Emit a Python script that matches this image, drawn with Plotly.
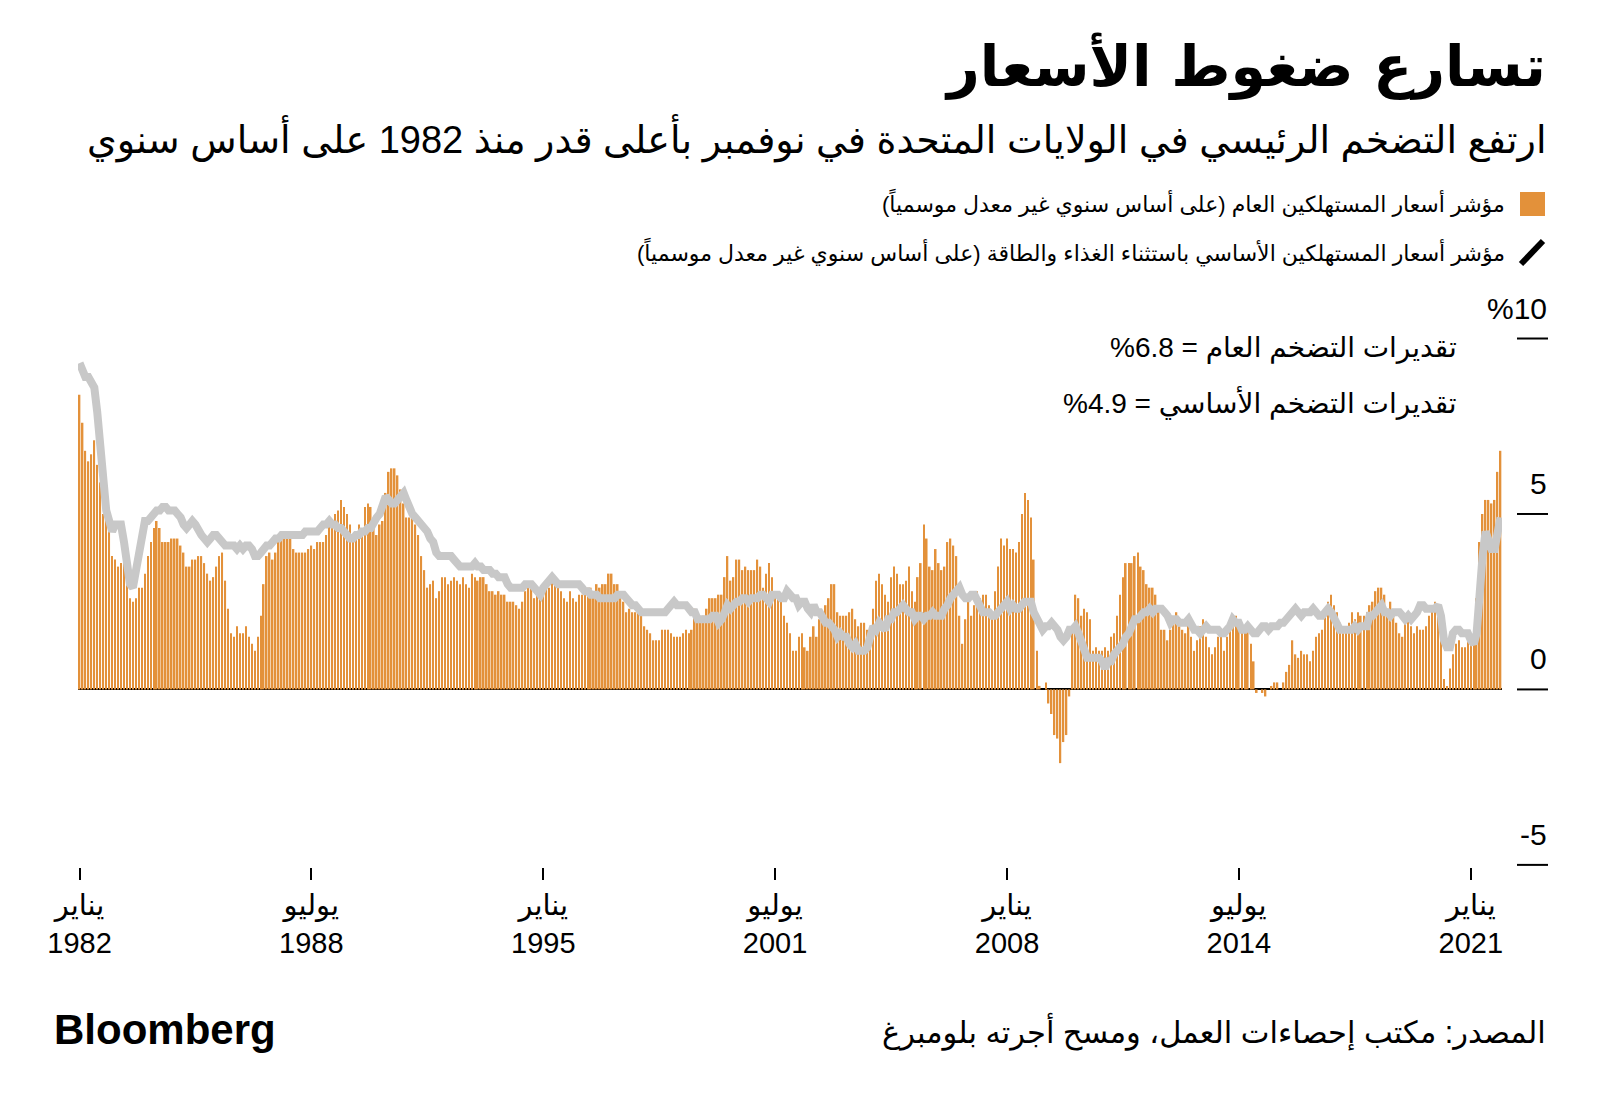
import plotly.graph_objects as go
import pandas as pd

# ---------------- data (year-over-year %, not seasonally adjusted) ----------------
cpi_yoy = [
    8.4, 7.6, 6.8, 6.5, 6.7, 7.1, 6.4, 5.9, 5.0, 5.1, 4.6, 3.8,      # 1982
    3.7, 3.5, 3.6, 3.9, 3.5, 2.6, 2.5, 2.6, 2.9, 2.9, 3.3, 3.8,      # 1983
    4.2, 4.6, 4.8, 4.6, 4.2, 4.2, 4.2, 4.3, 4.3, 4.3, 4.1, 3.9,      # 1984
    3.5, 3.5, 3.7, 3.7, 3.8, 3.8, 3.6, 3.3, 3.1, 3.2, 3.5, 3.8,      # 1985
    3.9, 3.1, 2.3, 1.6, 1.5, 1.8, 1.6, 1.6, 1.8, 1.5, 1.3, 1.1,      # 1986
    1.5, 2.1, 3.0, 3.8, 3.9, 3.7, 3.9, 4.3, 4.4, 4.5, 4.5, 4.4,      # 1987
    4.0, 3.9, 3.9, 3.9, 3.9, 4.0, 4.1, 4.0, 4.2, 4.2, 4.2, 4.4,      # 1988
    4.7, 4.8, 5.0, 5.1, 5.4, 5.2, 5.0, 4.7, 4.3, 4.5, 4.7, 4.6,      # 1989
    5.2, 5.3, 5.2, 4.7, 4.4, 4.7, 4.8, 5.6, 6.2, 6.3, 6.3, 6.1,      # 1990
    5.7, 5.3, 4.9, 4.9, 5.0, 4.7, 4.4, 3.8, 3.4, 2.9, 3.0, 3.1,      # 1991
    2.6, 2.8, 3.2, 3.2, 3.0, 3.1, 3.2, 3.1, 3.0, 3.2, 3.0, 2.9,      # 1992
    3.3, 3.2, 3.1, 3.2, 3.2, 3.0, 2.8, 2.8, 2.7, 2.8, 2.7, 2.7,      # 1993
    2.5, 2.5, 2.5, 2.4, 2.3, 2.5, 2.8, 2.9, 3.0, 2.6, 2.7, 2.7,      # 1994
    2.8, 2.9, 2.9, 3.1, 3.2, 3.0, 2.8, 2.6, 2.5, 2.8, 2.6, 2.5,      # 1995
    2.7, 2.7, 2.8, 2.9, 2.9, 2.8, 3.0, 2.9, 3.0, 3.0, 3.3, 3.3,      # 1996
    3.0, 3.0, 2.8, 2.5, 2.2, 2.3, 2.2, 2.2, 2.2, 2.1, 1.8, 1.7,      # 1997
    1.6, 1.4, 1.4, 1.4, 1.7, 1.7, 1.7, 1.6, 1.5, 1.5, 1.5, 1.6,      # 1998
    1.7, 1.6, 1.7, 2.3, 2.1, 2.0, 2.1, 2.3, 2.6, 2.6, 2.6, 2.7,      # 1999
    2.7, 3.2, 3.8, 3.1, 3.2, 3.7, 3.7, 3.4, 3.5, 3.4, 3.4, 3.4,      # 2000
    3.7, 3.5, 2.9, 3.3, 3.6, 3.2, 2.7, 2.7, 2.6, 2.1, 1.9, 1.6,      # 2001
    1.1, 1.1, 1.5, 1.6, 1.2, 1.1, 1.5, 1.8, 1.5, 2.0, 2.2, 2.4,      # 2002
    2.6, 3.0, 3.0, 2.2, 2.1, 2.1, 2.1, 2.2, 2.3, 2.0, 1.8, 1.9,      # 2003
    1.9, 1.7, 1.7, 2.3, 3.1, 3.3, 3.0, 2.7, 2.5, 3.2, 3.5, 3.3,      # 2004
    3.0, 3.0, 3.1, 3.5, 2.8, 2.5, 3.2, 3.6, 4.7, 4.3, 3.5, 3.4,      # 2005
    4.0, 3.6, 3.4, 3.5, 4.2, 4.3, 4.1, 3.8, 2.1, 1.3, 2.0, 2.5,      # 2006
    2.1, 2.4, 2.8, 2.6, 2.7, 2.7, 2.4, 2.0, 2.8, 3.5, 4.3, 4.1,      # 2007
    4.3, 4.0, 4.0, 3.9, 4.2, 5.0, 5.6, 5.4, 4.9, 3.7, 1.1, 0.1,      # 2008
    0.0, 0.2, -0.4, -0.7, -1.3, -1.4, -2.1, -1.5, -1.3, -0.2, 1.8, 2.7,  # 2009
    2.6, 2.1, 2.3, 2.2, 2.0, 1.1, 1.2, 1.1, 1.1, 1.2, 1.1, 1.5,      # 2010
    1.6, 2.1, 2.7, 3.2, 3.6, 3.6, 3.6, 3.8, 3.9, 3.5, 3.4, 3.0,      # 2011
    2.9, 2.9, 2.7, 2.3, 1.7, 1.7, 1.4, 1.7, 2.0, 2.2, 1.8, 1.7,      # 2012
    1.6, 2.0, 1.5, 1.1, 1.4, 1.8, 2.0, 1.5, 1.2, 1.0, 1.2, 1.5,      # 2013
    1.6, 1.1, 1.5, 2.0, 2.1, 2.1, 2.0, 1.7, 1.7, 1.7, 1.3, 0.8,      # 2014
    -0.1, 0.0, -0.1, -0.2, 0.0, 0.1, 0.2, 0.2, 0.0, 0.2, 0.5, 0.7,   # 2015
    1.4, 1.0, 0.9, 1.1, 1.0, 1.0, 0.8, 1.1, 1.5, 1.6, 1.7, 2.1,      # 2016
    2.5, 2.7, 2.4, 2.2, 1.9, 1.6, 1.7, 1.9, 2.2, 2.0, 2.2, 2.1,      # 2017
    2.1, 2.2, 2.4, 2.5, 2.8, 2.9, 2.9, 2.7, 2.3, 2.5, 2.2, 1.9,      # 2018
    1.6, 1.5, 1.9, 2.0, 1.8, 1.6, 1.8, 1.7, 1.7, 1.8, 2.1, 2.3,      # 2019
    2.5, 2.3, 1.5, 0.3, 0.1, 0.6, 1.0, 1.3, 1.4, 1.2, 1.2, 1.4,      # 2020
    1.4, 1.7, 2.6, 4.2, 5.0, 5.4, 5.4, 5.3, 5.4, 6.2, 6.8,           # 2021 (Jan-Nov)
]

core_yoy = [
    9.3, 9.1, 8.9, 8.9, 8.7, 8.6, 7.9, 6.9, 5.9, 5.1, 4.8, 4.5,      # 1982
    4.7, 4.7, 4.7, 4.2, 3.6, 3.0, 2.9, 3.4, 4.1, 4.6, 4.8, 4.8,      # 1983
    4.9, 5.0, 5.1, 5.1, 5.2, 5.2, 5.1, 5.1, 5.1, 5.0, 4.9, 4.7,      # 1984
    4.6, 4.7, 4.8, 4.7, 4.5, 4.4, 4.3, 4.2, 4.3, 4.4, 4.4, 4.3,      # 1985
    4.2, 4.1, 4.1, 4.1, 4.1, 4.0, 4.1, 4.0, 4.1, 4.1, 4.0, 3.8,      # 1986
    3.8, 3.9, 4.0, 4.1, 4.1, 4.2, 4.3, 4.3, 4.4, 4.4, 4.4, 4.4,      # 1987
    4.4, 4.4, 4.4, 4.4, 4.5, 4.5, 4.5, 4.5, 4.5, 4.6, 4.7, 4.7,      # 1988
    4.8, 4.7, 4.7, 4.6, 4.6, 4.5, 4.4, 4.3, 4.3, 4.4, 4.4, 4.5,      # 1989
    4.5, 4.6, 4.6, 4.8, 4.9, 5.0, 5.3, 5.5, 5.4, 5.3, 5.3, 5.4,      # 1990
    5.5, 5.6, 5.4, 5.1, 5.0, 4.9, 4.8, 4.7, 4.6, 4.5, 4.3, 4.2,      # 1991
    3.9, 3.8, 3.8, 3.8, 3.8, 3.8, 3.7, 3.6, 3.5, 3.5, 3.5, 3.5,      # 1992
    3.5, 3.6, 3.5, 3.5, 3.4, 3.4, 3.4, 3.3, 3.3, 3.2, 3.2, 3.2,      # 1993
    3.0, 2.9, 2.9, 2.9, 2.9, 2.9, 3.0, 3.0, 3.0, 2.9, 2.8, 2.7,      # 1994
    2.9, 3.0, 3.1, 3.2, 3.1, 3.0, 3.0, 3.0, 3.0, 3.0, 3.0, 3.0,      # 1995
    3.0, 2.9, 2.8, 2.8, 2.7, 2.7, 2.7, 2.6, 2.6, 2.6, 2.6, 2.6,      # 1996
    2.6, 2.7, 2.7, 2.7, 2.6, 2.5, 2.4, 2.4, 2.3, 2.2, 2.2, 2.2,      # 1997
    2.2, 2.2, 2.2, 2.2, 2.2, 2.2, 2.3, 2.4, 2.5, 2.4, 2.4, 2.4,      # 1998
    2.4, 2.3, 2.2, 2.2, 2.0, 2.0, 2.0, 2.0, 2.0, 2.1, 2.1, 1.9,      # 1999
    2.0, 2.2, 2.4, 2.3, 2.4, 2.5, 2.5, 2.6, 2.6, 2.5, 2.6, 2.6,      # 2000
    2.6, 2.7, 2.7, 2.6, 2.5, 2.7, 2.7, 2.7, 2.6, 2.6, 2.8, 2.7,      # 2001
    2.6, 2.6, 2.4, 2.5, 2.5, 2.3, 2.2, 2.4, 2.2, 2.2, 2.0, 1.9,      # 2002
    1.9, 1.8, 1.7, 1.5, 1.6, 1.5, 1.5, 1.3, 1.2, 1.3, 1.1, 1.1,      # 2003
    1.1, 1.2, 1.6, 1.8, 1.7, 1.9, 1.8, 1.7, 2.0, 2.0, 2.2, 2.2,      # 2004
    2.3, 2.4, 2.3, 2.2, 2.2, 2.0, 2.1, 2.1, 2.0, 2.1, 2.1, 2.2,      # 2005
    2.1, 2.1, 2.1, 2.3, 2.4, 2.6, 2.7, 2.8, 2.9, 2.7, 2.6, 2.6,      # 2006
    2.7, 2.7, 2.5, 2.3, 2.2, 2.2, 2.2, 2.1, 2.1, 2.2, 2.3, 2.4,      # 2007
    2.5, 2.3, 2.4, 2.3, 2.3, 2.4, 2.5, 2.5, 2.5, 2.2, 2.0, 1.8,      # 2008
    1.7, 1.8, 1.8, 1.9, 1.8, 1.7, 1.5, 1.4, 1.5, 1.7, 1.7, 1.8,      # 2009
    1.6, 1.3, 1.1, 0.9, 0.9, 0.9, 0.9, 0.9, 0.8, 0.6, 0.8, 0.8,      # 2010
    1.0, 1.1, 1.2, 1.3, 1.5, 1.6, 1.8, 2.0, 2.0, 2.1, 2.2, 2.2,      # 2011
    2.3, 2.2, 2.3, 2.3, 2.3, 2.2, 2.1, 1.9, 2.0, 2.0, 1.9, 1.9,      # 2012
    1.9, 2.0, 1.9, 1.7, 1.7, 1.6, 1.7, 1.8, 1.7, 1.7, 1.7, 1.7,      # 2013
    1.6, 1.6, 1.7, 1.8, 2.0, 1.9, 1.9, 1.7, 1.7, 1.8, 1.7, 1.6,      # 2014
    1.6, 1.7, 1.8, 1.8, 1.7, 1.8, 1.8, 1.8, 1.9, 1.9, 2.0, 2.1,      # 2015
    2.2, 2.3, 2.2, 2.1, 2.2, 2.2, 2.2, 2.3, 2.2, 2.1, 2.1, 2.2,      # 2016
    2.3, 2.2, 2.0, 1.9, 1.7, 1.7, 1.7, 1.7, 1.7, 1.8, 1.7, 1.8,      # 2017
    1.8, 1.8, 2.1, 2.1, 2.2, 2.3, 2.4, 2.2, 2.2, 2.1, 2.2, 2.2,      # 2018
    2.2, 2.1, 2.0, 2.1, 2.0, 2.1, 2.2, 2.4, 2.4, 2.3, 2.3, 2.3,      # 2019
    2.3, 2.4, 2.1, 1.4, 1.2, 1.2, 1.6, 1.7, 1.7, 1.6, 1.6, 1.6,      # 2020
    1.4, 1.3, 1.6, 3.0, 3.8, 4.5, 4.3, 4.0, 4.0, 4.6, 4.9,           # 2021 (Jan-Nov)
]

start_month = "1982-01-01"
months = pd.date_range(start_month, periods=len(cpi_yoy), freq="MS")

x_tick_dates = ["1982-01-01", "1988-07-01", "1995-01-01", "2001-07-01",
                "2008-01-01", "2014-07-01", "2021-01-01"]
x_tick_labels = ["يناير<br>1982", "يوليو<br>1988", "يناير<br>1995", "يوليو<br>2001",
                 "يناير<br>2008", "يوليو<br>2014", "يناير<br>2021"]
y_tick_values = [10, 5, 0, -5]
y_tick_labels = ["%10", "5", "0", "-5"]

RLE, LRE, PDF = "\u202b", "\u202a", "\u202c"
title_text = "تسارع ضغوط الأسعار"
subtitle_text = "ارتفع التضخم الرئيسي في الولايات المتحدة في نوفمبر بأعلى قدر منذ 1982 على أساس سنوي"
legend_cpi = "مؤشر أسعار المستهلكين العام (على أساس سنوي غير معدل موسمياً)\u200f"
legend_core = "مؤشر أسعار المستهلكين الأساسي باستثناء الغذاء والطاقة (على أساس سنوي غير معدل موسمياً)\u200f"
note_headline = RLE + "تقديرات التضخم العام = " + LRE + "%6.8" + PDF + PDF
note_core = RLE + "تقديرات التضخم الأساسي = " + LRE + "%4.9" + PDF + PDF
source_text = "المصدر: مكتب إحصاءات العمل، ومسح أجرته بلومبرغ"

# ---------------- styling ----------------
W, H = 1600, 1107
ML, MR, MT, MB = 78, 98, 335, 240
PW, PH = W - ML - MR, H - MT - MB
ORANGE = "#e3913a"
GREY = "#c8c8c8"
FONT = "Liberation Sans, DejaVu Sans, sans-serif"


def px(x):
    return (x - ML) / PW


def py(y):
    return (H - MB - y) / PH


fig = go.Figure()
fig.add_trace(go.Bar(x=months, y=cpi_yoy, marker=dict(color=ORANGE, line=dict(width=0)),
                     hoverinfo="skip", showlegend=False))
fig.add_trace(go.Scatter(x=months, y=core_yoy, mode="lines",
                         line=dict(color=GREY, width=8), hoverinfo="skip", showlegend=False))

ann = []
ann.append(dict(text=title_text, x=px(1548), y=py(66), xref="paper", yref="paper",
                xanchor="right", yanchor="middle", showarrow=False,
                font=dict(family="DejaVu Sans", size=57, color="black", weight="bold")))
ann.append(dict(text=subtitle_text, x=px(1548), y=py(138), xref="paper", yref="paper",
                xanchor="right", yanchor="middle", showarrow=False,
                font=dict(family=FONT, size=38, color="black")))
ann.append(dict(text=legend_cpi, x=px(1507), y=py(203), xref="paper", yref="paper",
                xanchor="right", yanchor="middle", showarrow=False,
                font=dict(family=FONT, size=22, color="black")))
ann.append(dict(text=legend_core, x=px(1507), y=py(252), xref="paper", yref="paper",
                xanchor="right", yanchor="middle", showarrow=False,
                font=dict(family=FONT, size=22, color="black")))
ann.append(dict(text=note_headline, x=px(1459), y=py(348), xref="paper", yref="paper",
                xanchor="right", yanchor="middle", showarrow=False,
                font=dict(family=FONT, size=28, color="black")))
ann.append(dict(text=note_core, x=px(1459), y=py(402), xref="paper", yref="paper",
                xanchor="right", yanchor="middle", showarrow=False,
                font=dict(family=FONT, size=28, color="black")))
ann.append(dict(text="<b>Bloomberg</b>", x=px(52), y=py(1029), xref="paper", yref="paper",
                xanchor="left", yanchor="middle", showarrow=False,
                font=dict(family="Liberation Sans", size=42, color="black")))
ann.append(dict(text=source_text, x=px(1548), y=py(1031), xref="paper", yref="paper",
                xanchor="right", yanchor="middle", showarrow=False,
                font=dict(family=FONT, size=30.5, color="black")))
for v, lab in zip(y_tick_values, y_tick_labels):
    ann.append(dict(text=lab, x=px(1549), y=v, xref="paper", yref="y",
                    xanchor="right", yanchor="bottom", yshift=12, showarrow=False,
                    font=dict(family=FONT, size=30, color="black")))

shapes = []
for v in y_tick_values:
    shapes.append(dict(type="line", xref="paper", yref="y", x0=px(1517), x1=px(1548),
                       y0=v, y1=v, line=dict(color="black", width=2)))
# legend keys
shapes.append(dict(type="rect", xref="paper", yref="paper", x0=px(1520), x1=px(1545),
                   y0=py(216), y1=py(192), fillcolor=ORANGE, line=dict(width=0)))
shapes.append(dict(type="line", xref="paper", yref="paper", x0=px(1521), x1=px(1543),
                   y0=py(264), y1=py(241), line=dict(color="black", width=6)))

fig.update_layout(
    width=W, height=H, margin=dict(l=ML, r=MR, t=MT, b=MB),
    paper_bgcolor="white", plot_bgcolor="white",
    bargap=0.42, annotations=ann, shapes=shapes,
    xaxis=dict(range=["1981-12-16", "2021-11-16"], tickvals=x_tick_dates, ticktext=x_tick_labels,
               ticks="outside", ticklen=12, tickwidth=1.5, tickcolor="black",
               showgrid=False, showline=False, zeroline=False,
               tickfont=dict(family=FONT, size=29, color="black")),
    yaxis=dict(range=[-5.06, 10.1], showticklabels=False, ticks="", showgrid=False,
               showline=False, zeroline=True, zerolinecolor="black", zerolinewidth=2),
)

fig.write_html("out.html")
